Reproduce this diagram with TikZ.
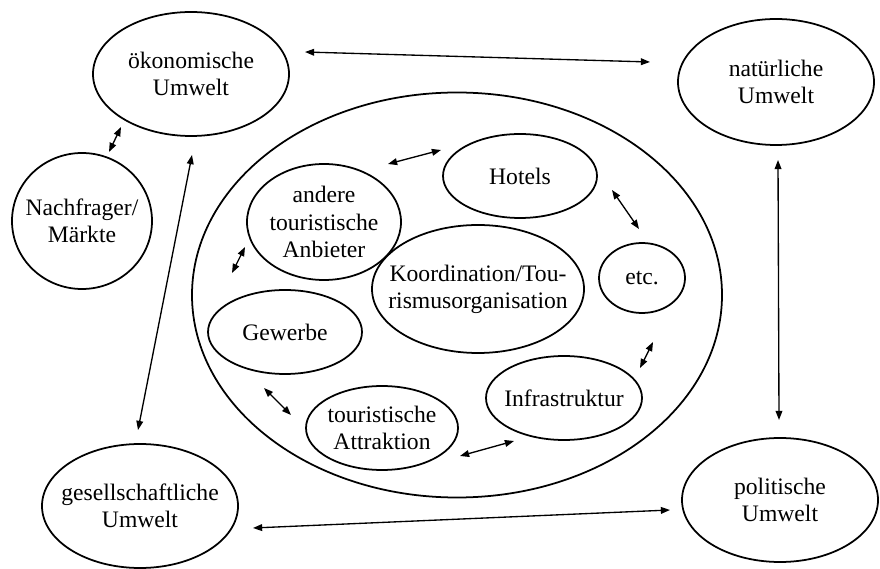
\documentclass[tikz,border=0pt]{standalone}
\usepackage{fontspec}
\setmainfont{Liberation Serif}
\usetikzlibrary{shapes.geometric,arrows.meta}

\begin{document}
\begin{tikzpicture}[
  x=0.025cm, y=-0.025cm,
  oval/.style 2 args={ellipse, draw, line width=1.25pt, inner sep=0pt,
    minimum width=#1*0.025cm, minimum height=#2*0.025cm},
  lbl/.style={align=center, inner sep=0pt,
    font=\fontsize{16.8}{19.4}\selectfont},
  link/.style={line width=0.95pt, {Triangle[length=6.5pt,width=4.8pt]}-{Triangle[length=6.5pt,width=4.8pt]}}
]
\useasboundingbox (0,0) rectangle (880,569);

% surrounding environments
\node[oval={196}{124}, label={[lbl]center:{ökonomische\\Umwelt}}] (oek) at (191,74) {};
\node[oval={196}{126}, label={[lbl]center:{natürliche\\Umwelt}}] (nat) at (776,82) {};
\node[oval={140}{136}, label={[lbl]center:{Nachfrager/\\Märkte}}] (nach) at (82,221) {};
\node[oval={196}{124}, label={[lbl]center:{gesellschaftliche\\Umwelt}}] (ges) at (140,506) {};
\node[oval={196}{124}, label={[lbl]center:{politische\\Umwelt}}] (pol) at (780,500) {};

% the destination with its actors
\node[oval={530}{405}] (dest) at (457,295) {};
\node[oval={154}{84}, label={[lbl]center:Hotels}] (hotels) at (520,176) {};
\node[oval={86}{70}, label={[lbl]center:etc.}] (etc) at (642,278) {};
\node[oval={212}{128}, label={[lbl]center:{Koordination/Tou-\\rismusorganisation}}] (koord) at (478,289) {};
\node[oval={154}{116}, label={[lbl]center:{andere\\touristische\\Anbieter}}] (andere) at (324,222) {};
\node[oval={154}{84}, label={[lbl]center:Gewerbe}] (gewerbe) at (285,332) {};
\node[oval={152}{84}, label={[lbl]center:{touristische\\Attraktion}}] (attr) at (382,428) {};
\node[oval={156}{84}, label={[lbl]center:Infrastruktur}] (infra) at (564,398) {};

% arrow ends
\coordinate (oekE) at (305,52);   \coordinate (natW) at (650,62);
\coordinate (oekS) at (121,127);  \coordinate (nachN) at (109,152);
\coordinate (oekSE) at (192,155); \coordinate (gesN) at (138,430);
\coordinate (natS) at (778,160);  \coordinate (polN) at (779,420);
\coordinate (gesE) at (253,528);  \coordinate (polW) at (670,510);
\coordinate (andereNE) at (388,164); \coordinate (hotelsW) at (441,150);
\coordinate (hotelsSE) at (612,190); \coordinate (etcN) at (639,229);
\coordinate (andereSW) at (245,247); \coordinate (gewerbeN) at (232,273);
\coordinate (gewerbeS) at (264,388); \coordinate (attrW) at (291,415);
\coordinate (attrE) at (460,456);  \coordinate (infraSW) at (514,441);
\coordinate (infraNE) at (640,368); \coordinate (etcS) at (653,342);

% mutual relations
\draw[link] (oekE) -- (natW);
\draw[link] (oekS) -- (nachN);
\draw[link] (oekSE) -- (gesN);
\draw[link] (natS) -- (polN);
\draw[link] (gesE) -- (polW);
\draw[link] (andereNE) -- (hotelsW);
\draw[link] (hotelsSE) -- (etcN);
\draw[link] (andereSW) -- (gewerbeN);
\draw[link] (gewerbeS) -- (attrW);
\draw[link] (attrE) -- (infraSW);
\draw[link] (infraNE) -- (etcS);
\end{tikzpicture}
\end{document}
